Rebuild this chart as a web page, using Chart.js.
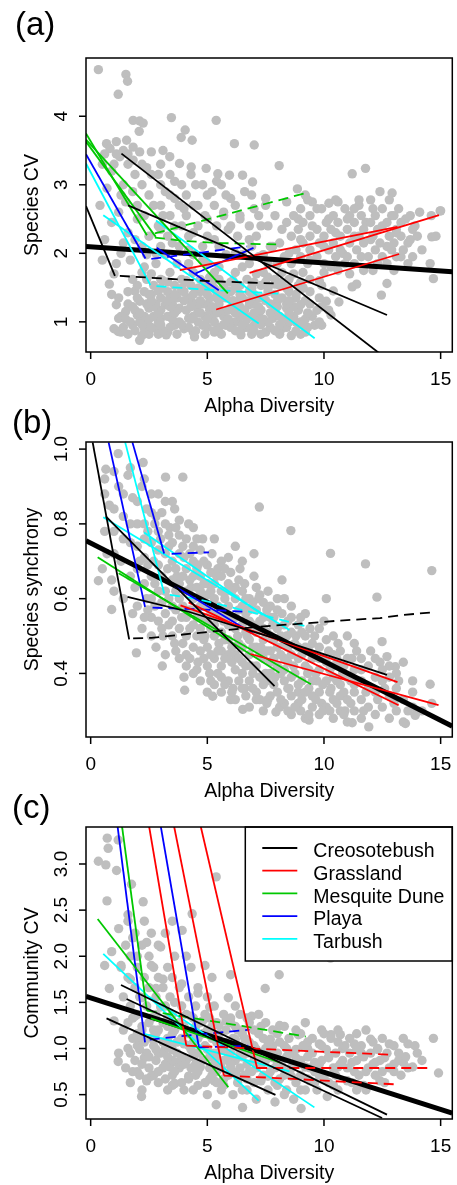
<!DOCTYPE html>
<html lang="en">
<head>
<meta charset="UTF-8">
<title>Alpha diversity vs species CV, synchrony and community CV</title>
<script src="https://cdn.jsdelivr.net/npm/chart.js"></script>
<style>
  body { margin: 0; background: #ffffff; }
  .wrap { position: relative; width: 457px; height: 1185px; }
  .wrap canvas { position: absolute; left: 0; top: 0; }
</style>
</head>
<body>
<div class="wrap">
  <canvas id="panel_a" width="457" height="1185"></canvas>
  <canvas id="panel_b" width="457" height="1185"></canvas>
  <canvas id="panel_c" width="457" height="1185"></canvas>
</div>
<script>
// ---- data ----
const sites = ['Creosotebush', 'Grassland', 'Mesquite Dune', 'Playa', 'Tarbush'];
const xTicks = [0, 5, 10, 15];
const yTicksA = [1, 2, 3, 4];
const yTicksB = [0.4, 0.6, 0.8, 1.0];
const yTickLabelsB = ['0.4', '0.6', '0.8', '1.0'];
const yTicksC = [0.5, 1.0, 1.5, 2.0, 2.5, 3.0];
const yTickLabelsC = ['0.5', '1.0', '1.5', '2.0', '2.5', '3.0'];

// (a) species CV
const pointsA = [
  [0.33,4.68],[1.51,4.61],[1.58,4.51],[1.18,4.32],[1.82,3.94],[2.1,3.93],[2.25,3.9],[3.46,3.98],[5.38,3.94],
  [4.05,3.8],[3.88,3.69],[4.35,3.65],[2.08,3.78],[6.16,3.6],[7.01,3.58],[8.08,3.28],[11.78,3.24],[11.21,3.16],
  [12.92,2.88],[14.98,2.62],[14.62,2.24],[14.55,1.85],[14.69,1.63],[12.46,1.39],[12.7,1.56],[1.18,0.86],
  [2.1,0.73],[3.24,0.81],[4.45,0.78],[6.44,0.81],[8.86,2.94],[9.5,2.75],[10.21,2.73],[10.64,1.29],[11.21,1.51],
  [0.68,3.6],[1.1,3.63],[1.54,3.65],[0.83,3.53],[1.4,3.5],[1.82,3.55],[1.25,3.41],[1.82,3.36],[2.1,3.48],
  [2.6,3.48],[3.1,3.5],[3.39,3.41],[3.81,3.31],[4.31,3.26],[4.95,3.24],[5.45,3.16],[5.95,3.14],[6.51,3.14],
  [6.94,3.04],[0.5,3.3],[0.9,3.2],[2.4,3.25],[2.9,3.15],[3.6,3.05],[0.7,2.95],[0.4,2.7],
  [1.0,0.9],[1.2,1.05],[1.1,1.25],[0.9,1.4],[1.3,0.85],[1.5,1.15],
  [1.8,0.95],[2.0,1.1],[2.2,0.8],[2.1,1.3],[1.9,1.45],[2.4,1.0],[2.5,1.2],[2.3,0.9],[2.6,1.4],
  [2.8,0.9],[3.0,1.05],[3.2,1.25],[2.9,1.45],[3.3,0.85],[3.5,1.1],[3.4,1.35],[3.6,0.95],[3.1,1.6],
  [3.8,1.2],[4.0,0.9],[4.2,1.05],[3.9,1.45],[4.3,1.3],[4.4,0.85],[4.1,1.6],[4.6,1.15],[4.5,1.45],
  [4.8,0.95],[5.0,1.25],[5.2,1.05],[4.9,1.5],[5.3,0.85],[5.4,1.35],[5.1,1.65],[5.6,1.15],
  [5.8,0.95],[6.0,1.2],[6.2,1.0],[5.9,1.45],[6.3,1.3],[6.5,0.9],[6.1,1.6],[6.6,1.1],
  [6.8,1.25],[7.0,0.95],[7.2,1.1],[6.9,1.5],[7.4,1.35],[7.5,0.85],[7.1,1.7],
  [7.8,1.05],[8.0,1.3],[8.2,0.9],[7.9,1.55],[8.4,1.2],[8.6,0.8],
  [8.8,1.0],[9.0,1.25],[9.2,0.85],[9.4,1.1],[9.1,1.5],[9.6,0.95],[9.9,0.95],[10.1,1.3],[10.3,1.1],
  [1.0,1.7],[1.3,2.0],[1.6,2.3],[1.2,2.6],[1.8,2.9],[1.5,2.75],[2.0,2.5],[2.2,2.1],[2.3,1.8],
  [2.6,1.7],[2.8,2.0],[3.0,2.35],[2.7,2.7],[3.2,2.9],[3.4,2.55],[3.5,2.15],[3.7,1.85],[3.9,2.4],[3.6,2.8],[4.0,2.65],[4.2,2.05],
  [4.4,2.3],[4.6,2.7],[4.8,1.9],[5.0,2.5],[5.2,2.9],[5.3,2.2],[5.5,1.8],[5.7,2.6],[5.9,2.35],[6.0,2.8],[6.2,2.0],[4.5,3.0],[5.4,3.05],
  [6.4,2.5],[6.6,2.9],[6.8,2.2],[7.0,2.65],[7.2,1.95],[7.3,2.4],[7.5,2.8],[7.7,2.1],[7.9,2.55],[8.0,1.85],[6.5,1.8],[7.6,1.65],
  [8.2,2.35],[8.4,2.75],[8.5,2.0],[8.7,1.7],[8.9,2.5],[9.0,2.2],[9.2,2.85],[9.4,1.9],[9.5,2.4],[9.7,2.65],[9.8,1.6],[10.0,2.1],
  [10.2,2.5],[10.3,1.8],[10.5,2.3],[10.6,2.75],[10.8,2.0],[11.0,2.5],[11.1,1.7],[11.3,2.25],[11.5,2.7],[11.6,1.95],[11.8,2.45],[12.0,2.2],[10.4,1.45],[11.4,1.55],
  [12.1,2.65],[12.3,1.85],[12.5,2.4],[12.7,2.1],[12.9,2.55],[13.1,2.3],[13.3,1.95],[13.5,2.5],[13.7,2.2],[12.4,2.9],[13.9,2.4],[14.1,2.6],
  [14.6,2.55],[14.8,2.25],[15.0,2.62],
  [1.6,0.82],[2.5,0.82],[2.9,0.82],[3.7,0.82],[4.9,0.82],[5.6,0.82],[6.9,0.82],[7.3,0.82],[8.1,0.82],[9.0,0.82],
  [1.4,0.92],[2.6,0.92],[3.4,0.92],[4.2,0.92],[5.0,0.92],[5.5,0.92],[6.0,0.92],[6.7,0.92],[7.7,0.92],[8.4,0.92],[9.3,0.92],
  [1.7,1.0],[2.1,1.0],[2.9,1.0],[3.8,1.0],[4.6,1.0],[5.3,1.0],[6.3,1.0],[7.1,1.0],[7.6,1.0],[8.5,1.0],[9.0,1.0],[9.8,1.0],
  [1.3,1.08],[2.3,1.08],[2.7,1.08],[3.3,1.08],[4.4,1.08],[4.9,1.08],[5.7,1.08],[6.4,1.08],[6.9,1.08],[8.1,1.08],[8.7,1.08],[9.5,1.08],
  [1.9,1.17],[3.0,1.17],[3.7,1.17],[4.1,1.17],[5.1,1.17],[5.9,1.17],[6.6,1.17],[7.3,1.17],[7.9,1.17],[8.9,1.17],[9.7,1.17],[10.2,1.17],
  [1.6,1.26],[2.4,1.26],[2.8,1.26],[3.5,1.26],[4.5,1.26],[4.8,1.26],[5.5,1.26],[6.2,1.26],[7.0,1.26],[7.7,1.26],[8.4,1.26],[9.4,1.26],
  [1.2,1.35],[2.0,1.35],[3.0,1.35],[3.7,1.35],[4.2,1.35],[5.1,1.35],[5.8,1.35],[6.5,1.35],[7.2,1.35],[8.2,1.35],[8.8,1.35],[9.8,1.35],
  [1.6,1.44],[2.3,1.44],[3.3,1.44],[4.0,1.44],[4.7,1.44],[5.4,1.44],[6.0,1.44],[6.8,1.44],[7.6,1.44],[8.5,1.44],[9.4,1.44],
  [2.0,1.53],[2.7,1.53],[3.6,1.53],[4.3,1.53],[5.0,1.53],[5.7,1.53],[6.4,1.53],[7.3,1.53],[8.1,1.53],[8.9,1.53],[9.9,1.53],
  [1.8,1.62],[2.4,1.62],[3.0,1.62],[3.9,1.62],[4.7,1.62],[5.5,1.62],[6.7,1.62],[7.9,1.62],[8.5,1.62],[9.4,1.62],
  [2.2,1.72],[3.4,1.72],[4.4,1.72],[5.3,1.72],[6.2,1.72],[7.4,1.72],[8.2,1.72],[9.1,1.72],[10.0,1.72],
  [1.9,0.87],[3.1,0.87],[4.5,0.87],[5.3,0.87],[6.2,0.87],[7.0,0.87],[7.9,0.87],[8.8,0.87],
  [2.2,0.96],[3.0,0.96],[3.9,0.96],[4.9,0.96],[5.7,0.96],[6.5,0.96],[7.3,0.96],[8.1,0.96],[9.1,0.96],
  [1.5,1.04],[2.5,1.04],[3.5,1.04],[4.3,1.04],[5.0,1.04],[5.9,1.04],[6.7,1.04],[7.4,1.04],[8.3,1.04],[9.2,1.04],
  [2.1,1.13],[2.9,1.13],[3.6,1.13],[4.7,1.13],[5.4,1.13],[6.2,1.13],[7.0,1.13],[7.7,1.13],[8.5,1.13],[9.3,1.13],
  [1.8,1.22],[2.7,1.22],[3.4,1.22],[4.3,1.22],[5.2,1.22],[6.4,1.22],[7.2,1.22],[8.0,1.22],[8.7,1.22],[9.9,1.22],
  [2.6,1.31],[3.3,1.31],[4.0,1.31],[4.7,1.31],[5.5,1.31],[6.1,1.31],[6.8,1.31],[7.5,1.31],[8.5,1.31],[9.2,1.31],
  [2.5,1.4],[3.6,1.4],[4.4,1.4],[5.0,1.4],[5.7,1.4],[6.4,1.4],[7.0,1.4],[7.9,1.4],[8.8,1.4],
  [3.0,1.49],[3.9,1.49],[4.6,1.49],[5.3,1.49],[6.2,1.49],[6.9,1.49],[7.6,1.49],[8.4,1.49],[9.1,1.49],
  [3.3,1.58],[4.1,1.58],[5.2,1.58],[6.0,1.58],[7.0,1.58],[7.5,1.58],[8.2,1.58],[9.0,1.58],
  [10.6,1.75],[11.7,1.75],[12.1,1.75],[13.0,1.75],
  [8.6,1.85],[9.3,1.85],[10.0,1.85],[10.9,1.85],[11.3,1.85],[12.7,1.85],[13.6,1.85],
  [8.3,1.95],[9.0,1.95],[9.7,1.95],[10.5,1.95],[11.0,1.95],[11.9,1.95],[12.5,1.95],[13.1,1.95],[13.8,1.95],
  [8.8,2.05],[9.4,2.05],[10.2,2.05],[10.7,2.05],[11.4,2.05],[12.2,2.05],[12.9,2.05],[13.4,2.05],[14.2,2.05],
  [8.1,2.15],[9.1,2.15],[9.8,2.15],[10.4,2.15],[11.1,2.15],[11.7,2.15],[12.4,2.15],[13.0,2.15],[13.6,2.15],
  [8.6,2.25],[9.4,2.25],[10.0,2.25],[10.7,2.25],[11.5,2.25],[12.1,2.25],[12.8,2.25],[13.3,2.25],[14.0,2.25],
  [8.9,2.35],[9.7,2.35],[10.3,2.35],[11.0,2.35],[11.7,2.35],[12.3,2.35],[13.1,2.35],[13.8,2.35],
  [8.4,2.45],[9.1,2.45],[10.1,2.45],[10.6,2.45],[11.3,2.45],[12.0,2.45],[12.7,2.45],[13.3,2.45],
  [8.7,2.55],[9.4,2.55],[10.4,2.55],[11.1,2.55],[11.6,2.55],[12.2,2.55],[13.0,2.55],[13.7,2.55],
  [9.0,2.65],[9.9,2.65],[10.9,2.65],[11.3,2.65],[12.5,2.65],[13.2,2.65],
  [9.3,2.78],[10.5,2.78],[11.5,2.78],[12.0,2.78],[12.8,2.78],
  [2.8,1.85],[4.2,1.85],[5.0,1.85],[6.8,1.85],[7.6,1.85],
  [2.4,1.98],[3.2,1.98],[4.4,1.98],[5.8,1.98],[6.5,1.98],[7.4,1.98],
  [3.0,2.1],[3.8,2.1],[4.8,2.1],[5.5,2.1],[6.9,2.1],[7.8,2.1],
  [2.5,2.25],[3.3,2.25],[4.2,2.25],[5.0,2.25],[6.3,2.25],[7.1,2.25],
  [2.9,2.4],[3.6,2.4],[4.6,2.4],[5.4,2.4],[6.0,2.4],[6.8,2.4],[7.6,2.4],
  [2.3,2.55],[3.1,2.55],[4.1,2.55],[4.9,2.55],[5.7,2.55],[6.4,2.55],[7.2,2.55],
  [2.0,2.7],[3.0,2.7],[3.8,2.7],[4.4,2.7],[5.3,2.7],[6.2,2.7],[7.5,2.7],
  [2.5,2.85],[3.4,2.85],[4.1,2.85],[5.0,2.85],[5.8,2.85],[6.9,2.85],
  [1.4,3.0],[2.2,3.0],[3.0,3.0],[3.9,3.0],[4.8,3.0],[5.6,3.0],
  [1.9,3.15],[2.6,3.15],[3.4,3.15],[4.3,3.15],
  [1.0,3.3],[1.6,3.3],[2.2,3.3],[3.0,3.3],
  [0.6,3.45],[1.1,3.45],[1.6,3.45],
  [0.6,2.2],[0.9,2.45],[1.4,2.15],[1.1,1.85],[0.8,1.55],[1.7,1.9],[1.9,2.2],[1.3,2.85],[0.5,1.9]
];
const overallA = [[-0.2, 2.10], [15.5, 1.73]];
const fitsA = [
  { site: 'Creosotebush', sig: true,  pts: [[-0.2, 2.69], [1.04, 1.67]] },
  { site: 'Creosotebush', sig: false, pts: [[1.25, 1.67], [3.24, 1.63], [5.38, 1.59], [7.94, 1.56]] },
  { site: 'Creosotebush', sig: true,  pts: [[1.32, 3.455], [12.35, 0.548]] },
  { site: 'Creosotebush', sig: true,  pts: [[1.6, 2.70], [12.7, 1.10]] },
  { site: 'Grassland',    sig: true,  pts: [[3.82, 1.754], [13.15, 2.385]] },
  { site: 'Grassland',    sig: true,  pts: [[6.81, 1.715], [14.93, 2.556]] },
  { site: 'Grassland',    sig: true,  pts: [[5.38, 1.18], [13.22, 1.99]] },
  { site: 'Mesquite Dune', sig: true,  pts: [[-0.2, 3.75], [2.41, 2.264]] },
  { site: 'Mesquite Dune', sig: true,  pts: [[-0.2, 3.63], [2.79, 2.24]] },
  { site: 'Mesquite Dune', sig: true,  pts: [[-0.2, 3.66], [5.88, 1.414]] },
  { site: 'Mesquite Dune', sig: false, pts: [[2.75, 2.29], [9.23, 2.88]] },
  { site: 'Mesquite Dune', sig: false, pts: [[2.75, 2.23], [4.0, 2.18], [5.5, 2.15], [7.95, 2.13]] },
  { site: 'Playa',        sig: true,  pts: [[-0.2, 3.445], [2.35, 1.924]] },
  { site: 'Playa',        sig: false, pts: [[2.6, 1.92], [4.5, 2.0], [6.7, 2.10]] },
  { site: 'Playa',        sig: true,  pts: [[2.83, 2.08], [5.49, 1.46]] },
  { site: 'Playa',        sig: true,  pts: [[4.49, 1.705], [6.98, 2.08]] },
  { site: 'Tarbush',      sig: true,  pts: [[-0.2, 3.31], [2.56, 1.535]] },
  { site: 'Tarbush',      sig: false, pts: [[2.82, 1.52], [5.0, 1.47], [8.1, 1.41]] },
  { site: 'Tarbush',      sig: true,  pts: [[0.54, 2.556], [7.2, 0.977]] },
  { site: 'Tarbush',      sig: true,  pts: [[2.8, 2.48], [9.6, 0.76]] }
];

// (b) species synchrony
const pointsB = [
  [1.18,0.988],[2.25,0.964],[3.21,0.925],[3.95,0.925],[0.65,0.946],[0.33,0.648],[0.9,0.571],[1.96,0.455],
  [3.07,0.42],[4.03,0.355],[7.23,0.845],[8.58,0.782],[10.28,0.721],[11.78,0.693],[12.27,0.604],[14.62,0.675],
  [14.55,0.371],[14.62,0.32],[13.49,0.266],[11.92,0.257],[11.21,0.268],[9.36,0.275],[7.94,0.297],[6.52,0.304],
  [5.23,0.339],[13.91,0.288],[12.49,0.485],[12.7,0.445],[13.06,0.418],
  [0.6,0.92],[0.8,0.85],[1.0,0.78],[0.7,0.72],[1.2,0.9],[1.3,0.7],[0.9,0.65],[1.4,0.82],[0.5,0.68],
  [1.6,0.93],[1.8,0.87],[2.0,0.8],[1.7,0.75],[2.2,0.9],[2.1,0.7],[1.9,0.63],[2.4,0.84],[2.3,0.76],[1.8,0.56],[2.4,0.6],[2.2,0.52],
  [2.6,0.88],[2.8,0.82],[3.0,0.76],[2.7,0.7],[3.2,0.86],[3.3,0.68],[2.9,0.62],[3.4,0.79],[2.6,0.55],[3.1,0.5],[3.5,0.58],[2.8,0.47],
  [3.6,0.84],[3.8,0.77],[4.0,0.71],[3.7,0.66],[4.2,0.8],[4.3,0.63],[3.9,0.55],[4.4,0.74],[3.6,0.48],[4.1,0.45],[4.5,0.57],[4.0,0.39],
  [4.6,0.69],[4.8,0.76],[5.0,0.64],[4.7,0.58],[5.2,0.72],[5.3,0.56],[4.9,0.5],[5.4,0.66],[4.6,0.43],[5.1,0.4],[5.5,0.48],[5.0,0.35],
  [5.6,0.7],[5.8,0.62],[6.0,0.67],[5.7,0.54],[6.2,0.6],[6.3,0.5],[5.9,0.45],[6.4,0.68],[5.6,0.39],[6.1,0.36],[6.5,0.43],[6.0,0.33],[6.2,0.74],
  [6.6,0.64],[6.8,0.57],[7.0,0.66],[6.7,0.5],[7.2,0.6],[7.3,0.47],[6.9,0.42],[7.4,0.55],[6.6,0.36],[7.1,0.33],[7.5,0.4],[7.0,0.72],
  [7.6,0.62],[7.8,0.53],[8.0,0.6],[7.7,0.46],[8.2,0.56],[8.3,0.44],[7.9,0.39],[8.4,0.5],[7.6,0.33],[8.1,0.31],[8.5,0.36],[8.2,0.65],
  [8.6,0.58],[8.8,0.5],[9.0,0.55],[8.7,0.42],[9.2,0.47],[9.3,0.4],[8.9,0.35],[9.4,0.52],[9.0,0.3],[9.5,0.34],
  [9.6,0.5],[9.8,0.44],[10.0,0.54],[9.7,0.38],[10.2,0.46],[10.3,0.36],[9.9,0.32],[10.4,0.42],[10.1,0.6],
  [10.6,0.48],[10.8,0.4],[11.0,0.5],[10.7,0.34],[11.2,0.44],[11.3,0.37],[10.9,0.3],[11.4,0.46],
  [11.6,0.41],[11.8,0.35],[12.0,0.46],[11.7,0.3],[12.2,0.39],[12.3,0.33],[12.4,0.43],
  [12.6,0.36],[12.8,0.42],[13.0,0.32],[13.2,0.38],[13.4,0.43],[13.6,0.3],[13.8,0.35],
  [0.6,0.78],[0.6,0.88],[1.0,0.62],[1.0,0.72],[1.0,0.84],[1.0,0.94],[1.4,0.6],[1.4,0.76],[1.4,0.88],
  [1.7,0.66],[1.7,0.8],[1.7,0.95],[2.0,0.58],[2.0,0.68],[2.0,0.74],[2.0,0.86],
  [2.3,0.55],[2.3,0.64],[2.3,0.71],[2.3,0.8],[2.3,0.92],[2.6,0.5],[2.6,0.6],[2.6,0.66],[2.6,0.75],[2.6,0.83],
  [2.9,0.54],[2.9,0.69],[2.9,0.73],[2.9,0.78],[2.9,0.88],[3.2,0.45],[3.2,0.56],[3.2,0.62],[3.2,0.72],[3.2,0.8],
  [3.5,0.5],[3.5,0.54],[3.5,0.65],[3.5,0.7],[3.5,0.75],[3.5,0.86],[3.8,0.44],[3.8,0.52],[3.8,0.6],[3.8,0.64],[3.8,0.72],[3.8,0.81],
  [4.1,0.42],[4.1,0.5],[4.1,0.55],[4.1,0.62],[4.1,0.68],[4.1,0.76],
  [4.4,0.4],[4.4,0.47],[4.4,0.53],[4.4,0.6],[4.4,0.66],[4.4,0.7],[4.4,0.79],
  [4.7,0.38],[4.7,0.46],[4.7,0.52],[4.7,0.55],[4.7,0.62],[4.7,0.66],[4.7,0.73],
  [5.0,0.42],[5.0,0.47],[5.0,0.54],[5.0,0.58],[5.0,0.61],[5.0,0.69],
  [5.3,0.37],[5.3,0.44],[5.3,0.5],[5.3,0.53],[5.3,0.6],[5.3,0.64],[5.3,0.76],
  [5.6,0.35],[5.6,0.42],[5.6,0.46],[5.6,0.51],[5.6,0.57],[5.6,0.62],[5.6,0.66],
  [5.9,0.38],[5.9,0.49],[5.9,0.53],[5.9,0.58],[5.9,0.64],[5.9,0.71],
  [6.2,0.33],[6.2,0.41],[6.2,0.45],[6.2,0.52],[6.2,0.55],[6.2,0.63],
  [6.5,0.36],[6.5,0.4],[6.5,0.47],[6.5,0.53],[6.5,0.58],[6.5,0.62],[6.5,0.7],
  [6.8,0.31],[6.8,0.38],[6.8,0.45],[6.8,0.49],[6.8,0.54],[6.8,0.6],
  [7.1,0.35],[7.1,0.42],[7.1,0.47],[7.1,0.51],[7.1,0.57],[7.1,0.63],
  [7.4,0.3],[7.4,0.37],[7.4,0.44],[7.4,0.49],[7.4,0.52],[7.4,0.59],
  [7.7,0.34],[7.7,0.4],[7.7,0.43],[7.7,0.5],[7.7,0.55],[7.7,0.58],
  [8.0,0.35],[8.0,0.42],[8.0,0.47],[8.0,0.52],[8.0,0.57],
  [8.3,0.32],[8.3,0.38],[8.3,0.41],[8.3,0.48],[8.3,0.53],[8.3,0.6],
  [8.6,0.29],[8.6,0.34],[8.6,0.39],[8.6,0.45],[8.6,0.51],[8.6,0.55],
  [8.9,0.32],[8.9,0.37],[8.9,0.44],[8.9,0.47],[8.9,0.53],
  [9.2,0.28],[9.2,0.35],[9.2,0.42],[9.2,0.5],[9.2,0.56],
  [9.5,0.31],[9.5,0.38],[9.5,0.44],[9.5,0.48],
  [9.8,0.29],[9.8,0.35],[9.8,0.41],[9.8,0.47],[9.8,0.52],
  [10.1,0.31],[10.1,0.38],[10.1,0.43],[10.1,0.49],
  [10.4,0.28],[10.4,0.33],[10.4,0.39],[10.4,0.45],[10.4,0.5],
  [10.7,0.3],[10.7,0.37],[10.7,0.42],[10.7,0.46],
  [11.0,0.27],[11.0,0.33],[11.0,0.39],[11.0,0.44],
  [11.3,0.3],[11.3,0.35],[11.3,0.41],[11.3,0.48],
  [11.6,0.28],[11.6,0.33],[11.6,0.38],[11.6,0.44],
  [11.9,0.31],[11.9,0.36],[11.9,0.42],[12.2,0.29],[12.2,0.35],[12.2,0.44],
  [12.5,0.31],[12.5,0.38],[12.5,0.41],[12.8,0.28],[12.8,0.34],[12.8,0.39],
  [13.1,0.3],[13.1,0.36],[13.1,0.4],[13.4,0.27],[13.4,0.33],[13.8,0.31],[13.8,0.38],[14.2,0.3],
  [2.45,0.57],[2.45,0.69],[2.45,0.78],[2.75,0.58],[2.75,0.64],[2.75,0.8],
  [3.05,0.52],[3.05,0.59],[3.05,0.66],[3.05,0.83],[3.35,0.53],[3.35,0.6],[3.35,0.74],[3.35,0.77],
  [3.65,0.46],[3.65,0.57],[3.65,0.62],[3.65,0.68],[3.65,0.79],[3.95,0.48],[3.95,0.58],[3.95,0.66],[3.95,0.74],
  [4.25,0.44],[4.25,0.52],[4.25,0.57],[4.25,0.65],[4.25,0.72],
  [4.55,0.41],[4.55,0.5],[4.55,0.55],[4.55,0.63],[4.55,0.68],[4.55,0.76],
  [4.85,0.44],[4.85,0.49],[4.85,0.6],[4.85,0.64],[4.85,0.7],
  [5.15,0.38],[5.15,0.45],[5.15,0.52],[5.15,0.56],[5.15,0.62],[5.15,0.67],
  [5.45,0.4],[5.45,0.46],[5.45,0.55],[5.45,0.58],[5.45,0.68],
  [5.75,0.37],[5.75,0.44],[5.75,0.49],[5.75,0.56],[5.75,0.6],[5.75,0.68],
  [6.05,0.35],[6.05,0.43],[6.05,0.47],[6.05,0.55],[6.05,0.62],
  [6.35,0.38],[6.35,0.44],[6.35,0.48],[6.35,0.57],[6.35,0.65],
  [6.65,0.34],[6.65,0.42],[6.65,0.51],[6.65,0.56],[6.65,0.6],
  [6.95,0.36],[6.95,0.4],[6.95,0.47],[6.95,0.53],[6.95,0.59],
  [7.25,0.33],[7.25,0.39],[7.25,0.45],[7.25,0.54],[7.25,0.61],
  [7.55,0.32],[7.55,0.38],[7.55,0.46],[7.55,0.51],[7.55,0.57],
  [7.85,0.37],[7.85,0.44],[7.85,0.49],[7.85,0.55],
  [8.15,0.33],[8.15,0.4],[8.15,0.45],[8.15,0.5],
  [8.45,0.3],[8.45,0.36],[8.45,0.43],[8.45,0.47],[8.45,0.54],
  [8.75,0.31],[8.75,0.4],[8.75,0.48],[9.05,0.33],[9.05,0.38],[9.05,0.45],[9.05,0.51],
  [9.35,0.29],[9.35,0.36],[9.35,0.41],[9.35,0.46],[9.65,0.33],[9.65,0.4],[9.65,0.45],
  [9.95,0.3],[9.95,0.37],[9.95,0.44],[10.25,0.3],[10.25,0.35],[10.25,0.41],
  [10.55,0.32],[10.55,0.38],[10.55,0.44],[10.85,0.29],[10.85,0.35],[10.85,0.42],[11.15,0.32],[11.15,0.38]
];
const overallB = [[-0.2, 0.755], [15.5, 0.259]];
const fitsB = [
  { site: 'Creosotebush', sig: true,  pts: [[0.085, 1.018], [1.65, 0.491]] },
  { site: 'Creosotebush', sig: false, pts: [[1.82, 0.494], [2.6, 0.495], [3.8, 0.503], [5.5, 0.514], [7.2, 0.525], [9.0, 0.533], [10.6, 0.541], [12.4, 0.548], [13.3, 0.556], [14.6, 0.563]] },
  { site: 'Creosotebush', sig: true,  pts: [[0.65, 0.82], [7.88, 0.366]] },
  { site: 'Creosotebush', sig: true,  pts: [[1.58, 0.605], [4.2, 0.565], [8.36, 0.485], [12.7, 0.396]] },
  { site: 'Grassland',    sig: true,  pts: [[3.85, 0.582], [13.15, 0.377]] },
  { site: 'Grassland',    sig: true,  pts: [[6.85, 0.452], [14.91, 0.315]] },
  { site: 'Grassland',    sig: true,  pts: [[4.2, 0.59], [13.2, 0.315]] },
  { site: 'Mesquite Dune', sig: true, pts: [[0.3, 0.711], [8.09, 0.402]] },
  { site: 'Mesquite Dune', sig: true, pts: [[1.2, 0.668], [9.44, 0.371]] },
  { site: 'Playa',        sig: true,  pts: [[0.77, 1.018], [2.33, 0.578]] },
  { site: 'Playa',        sig: false, pts: [[2.65, 0.576], [4.5, 0.572], [6.64, 0.565]] },
  { site: 'Playa',        sig: true,  pts: [[1.79, 1.018], [3.15, 0.721]] },
  { site: 'Playa',        sig: false, pts: [[3.47, 0.72], [5.07, 0.724]] },
  { site: 'Playa',        sig: true,  pts: [[3.6, 0.633], [6.95, 0.507]] },
  { site: 'Tarbush',      sig: true,  pts: [[1.48, 1.018], [3.15, 0.614]] },
  { site: 'Tarbush',      sig: false, pts: [[3.4, 0.61], [4.5, 0.6], [7.4, 0.556], [9.4, 0.523]] },
  { site: 'Tarbush',      sig: true,  pts: [[0.54, 0.818], [8.52, 0.516]] },
  { site: 'Tarbush',      sig: true,  pts: [[2.29, 0.777], [7.38, 0.556]] }
];

// (c) community CV
const pointsC = [
  [0.71,3.28],[0.75,3.17],[0.33,3.03],[0.65,2.99],[1.11,2.93],[1.18,3.26],[1.75,2.78],[2.25,2.59],[5.38,2.86],
  [4.35,2.46],[3.5,2.38],[3.92,2.28],[10.28,1.98],[8.08,1.8],[7.48,1.65],[14.69,1.11],[14.91,0.735],[2.18,0.48],
  [1.18,0.86],[5.38,0.39],[6.51,0.36],[9.02,0.35],[10.14,0.48],
  [0.6,1.9],[0.9,2.05],[1.2,2.3],[0.8,1.65],[1.3,1.9],[1.0,1.3],[1.4,1.2],[1.2,0.95],[0.7,2.6],
  [1.6,2.45],[1.8,2.2],[2.0,2.0],[1.7,1.75],[2.2,1.55],[2.4,2.15],[1.9,1.35],[2.1,1.1],[2.3,0.9],[1.6,1.0],[2.0,0.75],[2.4,0.65],
  [2.6,1.9],[2.8,1.65],[3.0,1.45],[2.7,1.2],[3.2,1.0],[3.4,0.8],[2.9,0.95],[3.3,1.25],[3.1,1.75],[2.6,0.7],[3.5,0.6],[3.0,2.1],
  [3.6,1.5],[3.8,1.25],[4.0,1.05],[3.7,0.85],[4.2,0.7],[4.3,1.35],[3.9,1.7],[4.4,0.95],[4.1,2.0],[3.6,0.62],[4.5,1.15],[4.0,0.55],
  [4.6,1.6],[4.8,1.3],[5.0,1.0],[4.7,0.8],[5.2,1.15],[5.3,0.65],[4.9,1.9],[5.4,0.9],[5.1,1.45],[4.6,0.6],[5.5,1.25],[5.0,0.5],
  [5.6,1.0],[5.8,1.3],[6.0,0.8],[5.7,0.6],[6.2,1.1],[6.3,0.7],[5.9,1.55],[6.4,0.95],[6.1,0.5],[6.5,1.2],[6.0,1.8],
  [6.6,1.05],[6.8,0.75],[7.0,0.95],[6.7,0.55],[7.2,1.2],[7.3,0.65],[6.9,1.35],[7.4,0.85],[7.1,0.45],[7.5,1.0],
  [7.6,0.7],[7.8,0.9],[8.0,0.6],[7.7,1.1],[8.2,0.8],[8.3,0.5],[7.9,0.42],[8.4,1.0],[8.1,1.25],
  [8.6,0.7],[8.8,0.9],[9.0,0.55],[8.7,0.45],[9.2,0.8],[9.3,1.0],[8.9,1.15],[9.4,0.65],
  [9.6,0.85],[9.8,1.05],[10.0,0.7],[9.7,0.55],[10.2,0.9],[10.3,1.15],[9.9,1.2],[10.4,0.6],
  [10.6,0.8],[10.8,1.0],[11.0,0.65],[10.7,1.15],[11.2,0.85],[11.3,1.05],[11.4,0.55],
  [11.6,0.95],[11.8,0.75],[12.0,1.1],[11.7,0.6],[12.2,0.85],[12.3,1.0],[12.4,0.65],
  [12.6,0.9],[12.8,1.05],[13.0,0.75],[13.2,0.95],[13.4,0.85],[13.6,1.05],[13.8,0.8],[14.0,0.95],
  [2.2,0.55],[3.3,0.55],[4.4,0.55],[5.6,0.55],[6.5,0.55],[7.6,0.55],[8.4,0.55],[9.2,0.55],[10.6,0.55],[11.8,0.55],
  [1.7,0.63],[2.9,0.63],[3.9,0.63],[4.9,0.63],[5.4,0.63],[6.3,0.63],[7.0,0.63],[7.9,0.63],[8.8,0.63],[9.6,0.63],[10.2,0.63],[11.2,0.63],[12.6,0.63],
  [2.1,0.71],[2.7,0.71],[3.5,0.71],[4.5,0.71],[5.2,0.71],[5.9,0.71],[6.6,0.71],[7.4,0.71],[8.3,0.71],[9.0,0.71],[9.8,0.71],[10.5,0.71],[11.5,0.71],[12.2,0.71],[13.3,0.71],
  [1.5,0.79],[2.5,0.79],[3.1,0.79],[3.8,0.79],[4.3,0.79],[5.1,0.79],[5.6,0.79],[6.4,0.79],[7.1,0.79],[7.9,0.79],[8.6,0.79],[9.4,0.79],[10.4,0.79],[11.0,0.79],[11.9,0.79],[12.8,0.79],[13.6,0.79],
  [1.9,0.87],[2.8,0.87],[3.5,0.87],[4.1,0.87],[4.8,0.87],[5.7,0.87],[6.2,0.87],[7.0,0.87],[7.5,0.87],[8.2,0.87],[9.0,0.87],[9.9,0.87],[10.8,0.87],[11.4,0.87],[12.4,0.87],[13.2,0.87],[14.2,0.87],
  [1.7,0.95],[2.4,0.95],[3.0,0.95],[3.7,0.95],[4.6,0.95],[5.3,0.95],[6.0,0.95],[6.7,0.95],[7.3,0.95],[8.0,0.95],[8.6,0.95],[9.5,0.95],[10.5,0.95],[11.1,0.95],[12.0,0.95],[12.7,0.95],
  [2.0,1.03],[2.7,1.03],[3.4,1.03],[4.2,1.03],[4.9,1.03],[5.6,1.03],[6.3,1.03],[7.0,1.03],[7.8,1.03],[8.3,1.03],[9.1,1.03],[9.9,1.03],[10.9,1.03],[11.6,1.03],[13.0,1.03],[13.9,1.03],
  [1.8,1.11],[2.6,1.11],[3.3,1.11],[3.9,1.11],[4.6,1.11],[5.2,1.11],[6.1,1.11],[6.6,1.11],[7.4,1.11],[8.5,1.11],[9.5,1.11],[10.3,1.11],[11.1,1.11],[12.5,1.11],[13.4,1.11],
  [2.2,1.2],[2.9,1.2],[3.6,1.2],[4.4,1.2],[5.0,1.2],[5.8,1.2],[6.3,1.2],[7.0,1.2],[7.8,1.2],[8.8,1.2],[10.6,1.2],[11.8,1.2],
  [1.6,1.28],[2.5,1.28],[3.1,1.28],[3.8,1.28],[4.7,1.28],[5.4,1.28],[6.0,1.28],[6.8,1.28],[7.5,1.28],[9.2,1.28],
  [2.0,1.37],[2.8,1.37],[3.5,1.37],[4.1,1.37],[4.9,1.37],[5.7,1.37],[6.4,1.37],[7.2,1.37],
  [1.7,1.46],[2.4,1.46],[3.2,1.46],[3.9,1.46],[4.5,1.46],[5.3,1.46],[6.2,1.46],
  [1.4,1.56],[2.1,1.56],[2.8,1.56],[3.4,1.56],[4.2,1.56],[5.0,1.56],
  [1.9,1.66],[2.5,1.66],[3.1,1.66],[3.8,1.66],[4.6,1.66],
  [1.6,1.77],[2.3,1.77],[2.9,1.77],[3.5,1.77],[5.2,1.77],
  [1.3,1.88],[2.0,1.88],[2.7,1.88],[3.3,1.88],[4.3,1.88],
  [1.7,2.0],[2.5,2.0],[3.6,2.0],[1.5,2.12],[2.2,2.12],[2.9,2.12],
  [1.9,2.25],[2.6,2.25],[3.2,2.25],[1.6,2.38],[2.3,2.38],
  [2.4,0.67],[3.2,0.67],[4.2,0.67],[5.1,0.67],[5.7,0.67],[6.7,0.67],[7.3,0.67],[8.1,0.67],[9.3,0.67],[10.0,0.67],
  [1.8,0.75],[2.9,0.75],[3.6,0.75],[4.6,0.75],[5.4,0.75],[6.1,0.75],[6.9,0.75],[7.7,0.75],[8.5,0.75],[9.6,0.75],[11.3,0.75],[12.5,0.75],
  [2.2,0.83],[3.2,0.83],[4.0,0.83],[4.5,0.83],[5.3,0.83],[6.0,0.83],[6.7,0.83],[7.3,0.83],[8.0,0.83],[8.9,0.83],[9.8,0.83],[10.7,0.83],[12.1,0.83],[13.0,0.83],
  [2.5,0.91],[3.3,0.91],[3.9,0.91],[4.4,0.91],[5.1,0.91],[5.9,0.91],[6.5,0.91],[7.2,0.91],[7.8,0.91],[8.4,0.91],[9.3,0.91],[10.2,0.91],[11.7,0.91],[13.5,0.91],
  [2.1,0.99],[2.8,0.99],[3.5,0.99],[4.3,0.99],[5.0,0.99],[5.7,0.99],[6.4,0.99],[7.1,0.99],[7.7,0.99],[8.8,0.99],[10.1,0.99],[11.4,0.99],[12.3,0.99],
  [2.3,1.07],[3.1,1.07],[3.7,1.07],[4.4,1.07],[5.4,1.07],[5.9,1.07],[6.8,1.07],[7.6,1.07],[8.1,1.07],[9.3,1.07],[10.6,1.07],[12.1,1.07],
  [2.0,1.16],[2.8,1.16],[3.5,1.16],[4.2,1.16],[4.8,1.16],[5.5,1.16],[6.5,1.16],[7.2,1.16],[8.0,1.16],[9.0,1.16],[10.0,1.16],[11.4,1.16],
  [2.2,1.24],[3.3,1.24],[4.0,1.24],[4.5,1.24],[5.2,1.24],[6.2,1.24],[7.3,1.24],[8.3,1.24],
  [1.8,1.33],[2.6,1.33],[3.3,1.33],[4.4,1.33],[5.1,1.33],[6.0,1.33],[6.7,1.33]
];
const overallC = [[-0.2, 1.566], [15.5, 0.30]];
const fitsC = [
  { site: 'Creosotebush', sig: true,  pts: [[1.3, 1.689], [12.7, 0.283]] },
  { site: 'Creosotebush', sig: true,  pts: [[1.54, 1.537], [12.49, 0.247]] },
  { site: 'Creosotebush', sig: true,  pts: [[0.68, 1.327], [7.92, 0.497]] },
  { site: 'Grassland',    sig: true,  pts: [[2.5, 3.415], [4.10, 1.031]] },
  { site: 'Grassland',    sig: false, pts: [[4.10, 1.031], [6.4, 1.006], [9.5, 0.97], [12.79, 0.934]] },
  { site: 'Grassland',    sig: true,  pts: [[3.57, 3.415], [5.71, 0.706]] },
  { site: 'Grassland',    sig: false, pts: [[5.71, 0.706], [8.0, 0.68], [10.5, 0.645], [13.2, 0.61]] },
  { site: 'Grassland',    sig: true,  pts: [[4.71, 3.415], [7.14, 0.779]] },
  { site: 'Grassland',    sig: false, pts: [[7.14, 0.789], [14.62, 0.789]] },
  { site: 'Mesquite Dune', sig: true,  pts: [[1.34, 3.415], [2.41, 1.41]] },
  { site: 'Mesquite Dune', sig: false, pts: [[2.41, 1.41], [3.89, 1.35], [6.1, 1.26], [9.22, 1.13]] },
  { site: 'Mesquite Dune', sig: true,  pts: [[0.3, 2.404], [5.9, 0.58]] },
  { site: 'Mesquite Dune', sig: true,  pts: [[2.58, 1.327], [8.16, 0.843]] },
  { site: 'Playa',        sig: true,  pts: [[1.15, 3.415], [2.33, 1.067]] },
  { site: 'Playa',        sig: false, pts: [[2.53, 1.096], [4.5, 1.15], [6.81, 1.204]] },
  { site: 'Playa',        sig: true,  pts: [[3.0, 3.415], [4.64, 1.013]] },
  { site: 'Playa',        sig: false, pts: [[4.64, 1.013], [5.8, 1.02], [6.75, 1.03]] },
  { site: 'Tarbush',      sig: true,  pts: [[0.54, 2.025], [7.2, 0.435]] },
  { site: 'Tarbush',      sig: true,  pts: [[2.29, 1.158], [8.52, 0.753]] },
  { site: 'Tarbush',      sig: true,  pts: [[2.5, 1.56], [9.59, 0.362]] }
];

// ---- styling ----
const siteColors = {
  'Creosotebush': '#000000',
  'Grassland': '#ff0000',
  'Mesquite Dune': '#00c800',
  'Playa': '#0000ff',
  'Tarbush': '#00ffff'
};
const FONT = '"Liberation Sans", Arial, sans-serif';

// R-like axes, box, titles and legend, drawn on top of the chart area
const rAxes = {
  id: 'rAxes',
  afterDraw(chart, args, o) {
    const ctx = chart.ctx;
    const a = chart.chartArea;
    const xs = chart.scales.x, ys = chart.scales.y;
    ctx.save();
    ctx.strokeStyle = '#000';
    ctx.fillStyle = '#000';
    ctx.lineWidth = 1.5;

    if (o.legend) {
      const bx = a.right - 207, by = a.top, bw = 207, bh = 134;
      ctx.fillStyle = '#fff';
      ctx.fillRect(bx, by, bw, bh);
      ctx.strokeRect(bx, by, bw, bh);
      ctx.font = '19.5px ' + FONT;
      ctx.textAlign = 'left';
      ctx.textBaseline = 'middle';
      sites.forEach((s, i) => {
        const ry = by + 21 + i * 22.7;
        ctx.strokeStyle = siteColors[s];
        ctx.lineWidth = 1.8;
        ctx.beginPath(); ctx.moveTo(bx + 17, ry); ctx.lineTo(bx + 52, ry); ctx.stroke();
        ctx.fillStyle = '#000';
        ctx.fillText(s, bx + 68, ry + 4);
      });
      ctx.strokeStyle = '#000';
      ctx.lineWidth = 1.5;
    }

    ctx.strokeRect(a.left, a.top, a.right - a.left, a.bottom - a.top);

    ctx.fillStyle = '#000';
    ctx.font = '19px ' + FONT;
    ctx.textAlign = 'center';
    ctx.textBaseline = 'middle';
    xTicks.forEach(v => {
      const px = xs.getPixelForValue(v);
      ctx.beginPath(); ctx.moveTo(px, a.bottom); ctx.lineTo(px, a.bottom + 7); ctx.stroke();
      ctx.fillText(String(v), px, a.bottom + 28);
    });
    o.yTicks.forEach((v, i) => {
      const py = ys.getPixelForValue(v);
      ctx.beginPath(); ctx.moveTo(a.left - 7, py); ctx.lineTo(a.left, py); ctx.stroke();
      ctx.save();
      ctx.translate(a.left - 24, py);
      ctx.rotate(-Math.PI / 2);
      ctx.fillText(o.yLabels[i], 0, 0);
      ctx.restore();
    });

    ctx.font = '19.5px ' + FONT;
    ctx.fillText('Alpha Diversity', (a.left + a.right) / 2, a.bottom + 55);
    ctx.save();
    ctx.translate(a.left - 53, (a.top + a.bottom) / 2);
    ctx.rotate(-Math.PI / 2);
    ctx.fillText(o.yTitle, 0, 0);
    ctx.restore();

    ctx.font = '33px ' + FONT;
    ctx.textAlign = 'left';
    ctx.textBaseline = 'alphabetic';
    ctx.fillText(o.tag, o.tagX, o.tagY);
    ctx.restore();
  }
};

function toXY(list) {
  return list.map(p => ({ x: p[0], y: p[1] }));
}

function makeDatasets(points, overall, fits) {
  const sets = [{
    data: toXY(points),
    backgroundColor: '#bebebe',
    borderWidth: 0,
    pointRadius: 4.7,
    order: 3,
    clip: 0
  }, {
    data: toXY(overall),
    showLine: true,
    borderColor: '#000',
    borderWidth: 5,
    pointRadius: 0,
    order: 2,
    clip: 0
  }];
  fits.forEach(f => {
    sets.push({
      data: toXY(f.pts),
      showLine: true,
      borderColor: siteColors[f.site],
      borderWidth: 1.8,
      borderDash: f.sig ? [] : [10, 6],
      pointRadius: 0,
      order: 1,
      clip: 0
    });
  });
  return sets;
}

function makePanel(id, cfg) {
  new Chart(document.getElementById(id), {
    type: 'scatter',
    data: { datasets: makeDatasets(cfg.points, cfg.overall, cfg.fits) },
    options: {
      responsive: false,
      animation: false,
      events: [],
      layout: { padding: cfg.padding },
      scales: {
        x: { type: 'linear', display: false, min: -0.2, max: 15.5 },
        y: { type: 'linear', display: false, min: cfg.yMin, max: cfg.yMax }
      },
      plugins: {
        legend: { display: false },
        tooltip: { enabled: false },
        rAxes: cfg.axes
      }
    },
    plugins: [rAxes]
  });
}

makePanel('panel_a', {
  points: pointsA, overall: overallA, fits: fitsA,
  yMin: 0.56, yMax: 4.85,
  padding: { left: 86, right: 3, top: 58, bottom: 833 },
  axes: { yTicks: yTicksA, yLabels: yTicksA.map(String), yTitle: 'Species CV', tag: '(a)', tagX: 15, tagY: 35 }
});

makePanel('panel_b', {
  points: pointsB, overall: overallB, fits: fitsB,
  yMin: 0.23, yMax: 1.019,
  padding: { left: 86, right: 3, top: 442, bottom: 448 },
  axes: { yTicks: yTicksB, yLabels: yTickLabelsB, yTitle: 'Species synchrony', tag: '(b)', tagX: 12, tagY: 433 }
});

makePanel('panel_c', {
  points: pointsC, overall: overallC, fits: fitsC,
  yMin: 0.236, yMax: 3.401,
  padding: { left: 86, right: 3, top: 827, bottom: 66 },
  axes: { yTicks: yTicksC, yLabels: yTickLabelsC, yTitle: 'Community CV', tag: '(c)', tagX: 12, tagY: 818, legend: true }
});
</script>
</body>
</html>
